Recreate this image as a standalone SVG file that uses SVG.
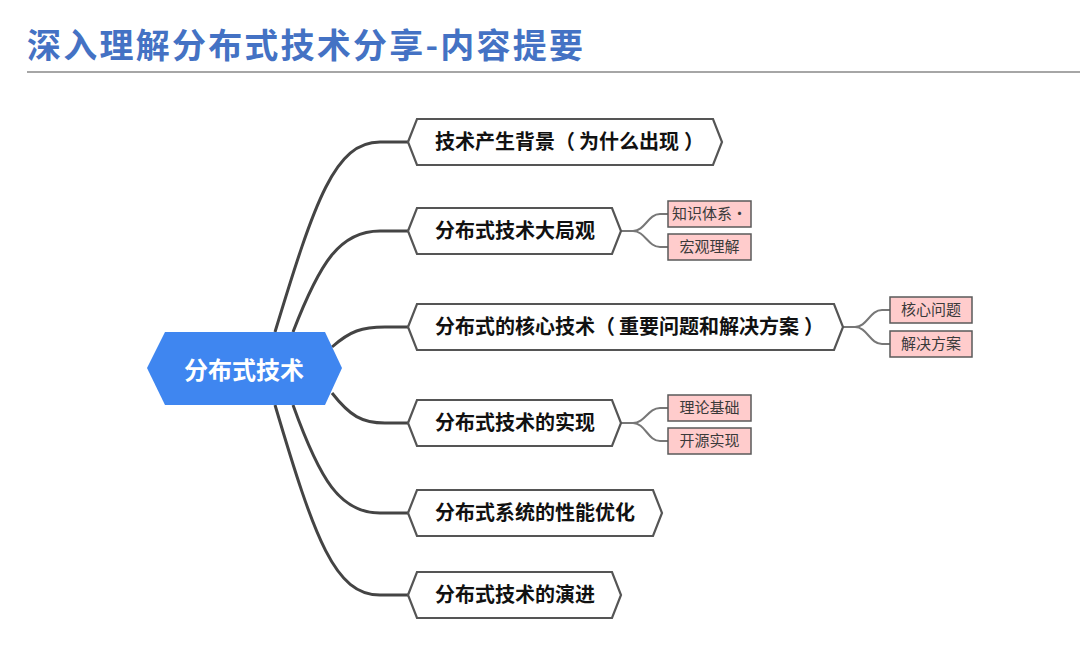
<svg xmlns="http://www.w3.org/2000/svg" width="1080" height="666" viewBox="0 0 1080 666">
<style>
.title{font-family:"Noto Sans CJK SC","Noto Sans",sans-serif;font-weight:700;font-size:34px;fill:#4472C4}
.root-shape{fill:#3F86F0}
.root-text{font-family:"Noto Sans CJK SC","Noto Sans",sans-serif;font-weight:700;font-size:24px;fill:#ffffff}
.branch-shape{fill:#ffffff;stroke:#555555;stroke-width:2.2;stroke-linejoin:miter}
.branch-text{font-family:"Noto Sans CJK SC","Noto Sans",sans-serif;font-weight:700;font-size:20px;fill:#111111}
.leaf-shape{fill:#FFCCCC;stroke:#5a5a5a;stroke-width:1.5}
.leaf-text{font-family:"Noto Sans CJK SC","Noto Sans",sans-serif;font-size:15px;fill:#3a3a3a}
.main-link{fill:none;stroke:#444444;stroke-width:3}
.sub-link{fill:none;stroke:#777777;stroke-width:2}
</style>
<rect width="1080" height="666" fill="#ffffff"/>
<text class="title" x="27" y="58" textLength="556" lengthAdjust="spacing">深入理解分布式技术分享-内容提要</text>
<line x1="27" y1="72" x2="1080" y2="72" stroke="#A6A6A6" stroke-width="2"/>

<g id="connectors">
<path class="main-link" d="M275,332 C315,200 335,142 380,142 H409"/>
<path class="main-link" d="M293,332 C320,262 340,231 380,231 H409"/>
<path class="main-link" d="M332,347 C350,331 362,327 385,327 H409"/>
<path class="main-link" d="M332,393 C350,416 362,423 385,423 H409"/>
<path class="main-link" d="M293,405 C320,480 340,513 380,513 H409"/>
<path class="main-link" d="M275,405 C315,540 335,595 380,595 H409"/>
<path class="sub-link" d="M621,231 H633 C645,231 648,214 660,214 H668"/>
<path class="sub-link" d="M621,231 H633 C645,231 648,247 660,247 H668"/>
<path class="sub-link" d="M843,327 H855 C867,327 870,310 882,310 H890"/>
<path class="sub-link" d="M843,327 H855 C867,327 870,344 882,344 H890"/>
<path class="sub-link" d="M621,423 H633 C645,423 648,408 660,408 H668"/>
<path class="sub-link" d="M621,423 H633 C645,423 648,441 660,441 H668"/>
</g>

<g id="root">
<polygon class="root-shape" points="147,368 165,332 325,332 342,368 325,405 165,405"/>
<text class="root-text" x="244" y="379" text-anchor="middle">分布式技术</text>
</g>

<g id="node-background">
<polygon class="branch-shape" points="408,142 417,119 713,119 722,142 713,165 417,165"/>
<text class="branch-text" x="435" y="149">技术产生背景（<tspan dx="4">为什么出现</tspan><tspan dx="5">）</tspan></text>
</g>

<g id="node-overview">
<polygon class="branch-shape" points="408,231 417,208 612,208 621,231 612,254 417,254"/>
<text class="branch-text" x="435" y="238">分布式技术大局观</text>
</g>

<g id="node-core">
<polygon class="branch-shape" points="408,327 417,304 834,304 843,327 834,350 417,350"/>
<text class="branch-text" x="435" y="334">分布式的核心技术（<tspan dx="4">重要问题和解决方案</tspan><tspan dx="5">）</tspan></text>
</g>

<g id="node-impl">
<polygon class="branch-shape" points="408,423 417,400 612,400 621,423 612,446 417,446"/>
<text class="branch-text" x="435" y="430">分布式技术的实现</text>
</g>

<g id="node-perf">
<polygon class="branch-shape" points="408,513 417,490 653,490 662,513 653,536 417,536"/>
<text class="branch-text" x="435" y="520">分布式系统的性能优化</text>
</g>

<g id="node-evolution">
<polygon class="branch-shape" points="408,595 417,572 612,572 621,595 612,618 417,618"/>
<text class="branch-text" x="435" y="602">分布式技术的演进</text>
</g>

<g id="leaf-knowledge">
<rect class="leaf-shape" x="668" y="201" width="83" height="26"/>
<text class="leaf-text" x="709.5" y="219" text-anchor="middle">知识体系·</text>
</g>
<g id="leaf-macro">
<rect class="leaf-shape" x="668" y="234" width="83" height="26"/>
<text class="leaf-text" x="709.5" y="252" text-anchor="middle">宏观理解</text>
</g>
<g id="leaf-core-problem">
<rect class="leaf-shape" x="890" y="297" width="82" height="26"/>
<text class="leaf-text" x="931" y="315" text-anchor="middle">核心问题</text>
</g>
<g id="leaf-solution">
<rect class="leaf-shape" x="890" y="331" width="82" height="26"/>
<text class="leaf-text" x="931" y="349" text-anchor="middle">解决方案</text>
</g>
<g id="leaf-theory">
<rect class="leaf-shape" x="668" y="395" width="83" height="26"/>
<text class="leaf-text" x="709.5" y="413" text-anchor="middle">理论基础</text>
</g>
<g id="leaf-opensource">
<rect class="leaf-shape" x="668" y="428" width="83" height="26"/>
<text class="leaf-text" x="709.5" y="446" text-anchor="middle">开源实现</text>
</g>
</svg>
